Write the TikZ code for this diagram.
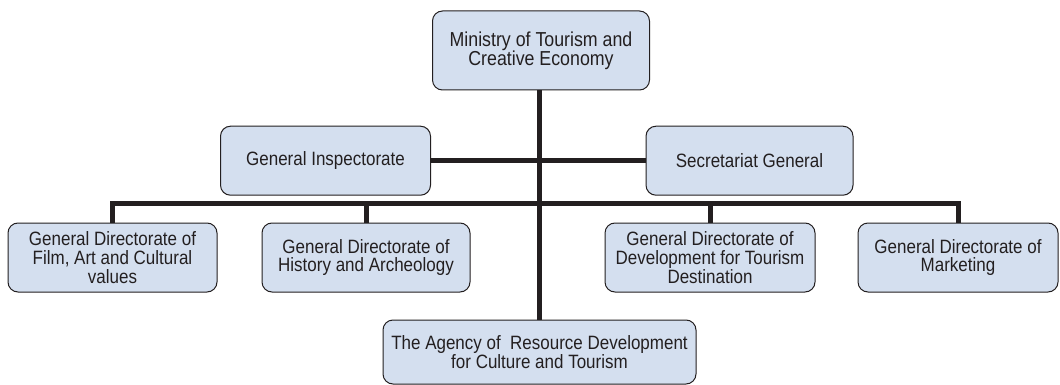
\documentclass[tikz,border=0pt]{standalone}
\usepackage{fontspec}
\setmainfont{Liberation Sans}[FakeStretch=0.88]
\definecolor{boxblue}{RGB}{212,223,239}
\definecolor{ink}{RGB}{35,31,32}
\begin{document}
\begin{tikzpicture}[x=1pt,y=-1pt,
  box/.style={draw=ink, line width=1pt, fill=boxblue, rounded corners=10pt,
    align=center, inner sep=0pt, font=\fontsize{19.3}{18.7}\selectfont, text=ink},
  conn/.style={line width=5pt, draw=ink}]
\useasboundingbox (0,0) rectangle (1060,385);
\node[box, minimum width=217pt, minimum height=79pt, font=\fontsize{20.2}{19}\selectfont] (min) at (541,50.5) {Ministry of Tourism and\\Creative Economy};
\node[box, minimum width=210pt, minimum height=69pt] (insp) at (325.5,160.7) {General Inspectorate};
\node[box, minimum width=207pt, minimum height=69pt] (sec) at (749.5,160.7) {Secretariat General};
\node[box, minimum width=209pt, minimum height=69pt] (d1) at (112.5,257.5) {General Directorate of\\Film, Art and Cultural\\values};
\node[box, minimum width=208pt, minimum height=69pt] (d2) at (366,257.5) {General Directorate of\\History and Archeology};
\node[box, minimum width=210pt, minimum height=69pt] (d3) at (710,257.5) {General Directorate of\\Development for Tourism\\Destination};
\node[box, minimum width=200pt, minimum height=69pt] (d4) at (958,257.5) {General Directorate of\\Marketing};
\node[box, minimum width=313pt, minimum height=64pt] (agency) at (539.5,352) {The Agency of\ \ Resource Development\\for Culture and Tourism};
\coordinate (bus) at (540,203.5);
\draw[conn] (min.south -| agency.north) -- (agency.north);
\draw[conn] (insp.east) -- (sec.west);
\draw[conn] (d1.north) |- (bus) -| (d4.north);
\draw[conn] (d2.north) -- (d2.north |- bus);
\draw[conn] (d3.north) -- (d3.north |- bus);
\end{tikzpicture}
\end{document}
